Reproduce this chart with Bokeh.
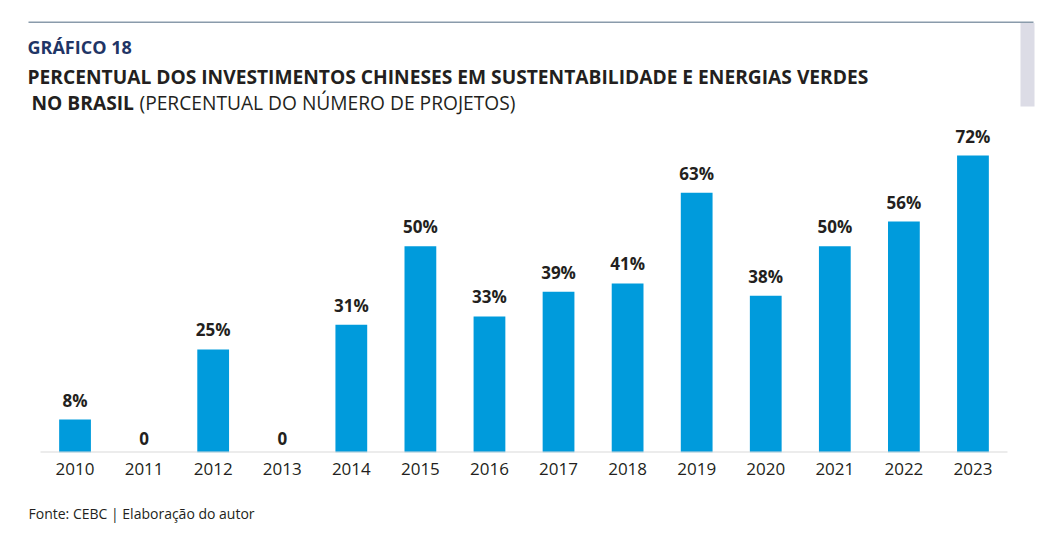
from bokeh.plotting import figure
from bokeh.models import ColumnDataSource, Label, BoxAnnotation, Range1d, FactorRange, Title
from bokeh.core.properties import value
from bokeh.embed import file_html
from bokeh.resources import INLINE

years = ["2010", "2011", "2012", "2013", "2014", "2015", "2016",
         "2017", "2018", "2019", "2020", "2021", "2022", "2023"]
values = [8, 0, 25, 0, 31, 50, 33, 39, 41, 63, 38, 50, 56, 72]
labels = ["8%", "0", "25%", "0", "31%", "50%", "33%", "39%", "41%",
          "63%", "38%", "50%", "56%", "72%"]

FONT = "Open Sans"
DARK = "#231f20"
BLUE = "#009bdc"

src = ColumnDataSource(dict(years=years, values=values, labels=labels))

xr = FactorRange(factors=years, range_padding=0.5791, range_padding_units="absolute")
p = figure(x_range=xr, y_range=Range1d(0, 109.58), width=1051, height=546,
           output_backend="svg", toolbar_location=None,
           min_border_left=0, min_border_right=4,
           min_border_top=0, min_border_bottom=94)
p.outline_line_color = None
p.xgrid.visible = False
p.ygrid.visible = False
p.yaxis.visible = False

p.vbar(x="years", top="values", width=0.46, source=src,
       fill_color=BLUE, line_color=None)
p.text(x="years", y="values", text="labels", source=src,
       y_offset=-8, text_align="center", text_baseline="bottom",
       text_font=value(FONT), text_font_style="bold",
       text_font_size="17px", text_color=DARK)

# baseline spanning the categories (synthetic coordinates 0..N)
p.segment(x0=[0], x1=[len(years)], y0=[0], y1=[0], line_color="#d9d9d9", line_width=2)

ax = p.xaxis[0]
ax.axis_line_color = None
ax.major_tick_line_color = None
ax.minor_tick_line_color = None
ax.major_label_standoff = 4
ax.major_label_text_font = FONT
ax.major_label_text_font_size = "17px"
ax.major_label_text_color = DARK

# decorations (frame-relative screen units)
p.add_layout(BoxAnnotation(left=28, right=1033, bottom=429.5, top=431,
                           left_units="screen", right_units="screen",
                           bottom_units="screen", top_units="screen",
                           fill_color="#8a9bab", fill_alpha=1, line_color=None))
p.add_layout(BoxAnnotation(left=1020, right=1034, bottom=346, top=429.5,
                           left_units="screen", right_units="screen",
                           bottom_units="screen", top_units="screen",
                           fill_color="#dcdce6", fill_alpha=1, line_color=None))

def lab(x, y, text, size, bold=False, color=DARK):
    p.add_layout(Label(x=x, y=y, x_units="screen", y_units="screen", text=text,
                       text_font=FONT, text_font_size=size,
                       text_font_style="bold" if bold else "normal",
                       text_color=color, text_baseline="middle",
                       text_align="left"))

lab(27, 406, "GRÁFICO 18", "18px", True, "#1f3566")
lab(27, 376, "PERCENTUAL DOS INVESTIMENTOS CHINESES EM SUSTENTABILIDADE E ENERGIAS VERDES", "19.2px", True)
lab(31, 350, "NO BRASIL", "19.2px", True)
lab(139, 350, "(PERCENTUAL DO NÚMERO DE PROJETOS)", "19.2px")

p.add_layout(Title(text="Fonte: CEBC | Elaboração do autor", align="left", offset=28,
                   text_font=FONT, text_font_size="14px", text_font_style="normal",
                   text_color=DARK, standoff=48), "below")

open("out.html", "w").write(file_html(p, INLINE))
